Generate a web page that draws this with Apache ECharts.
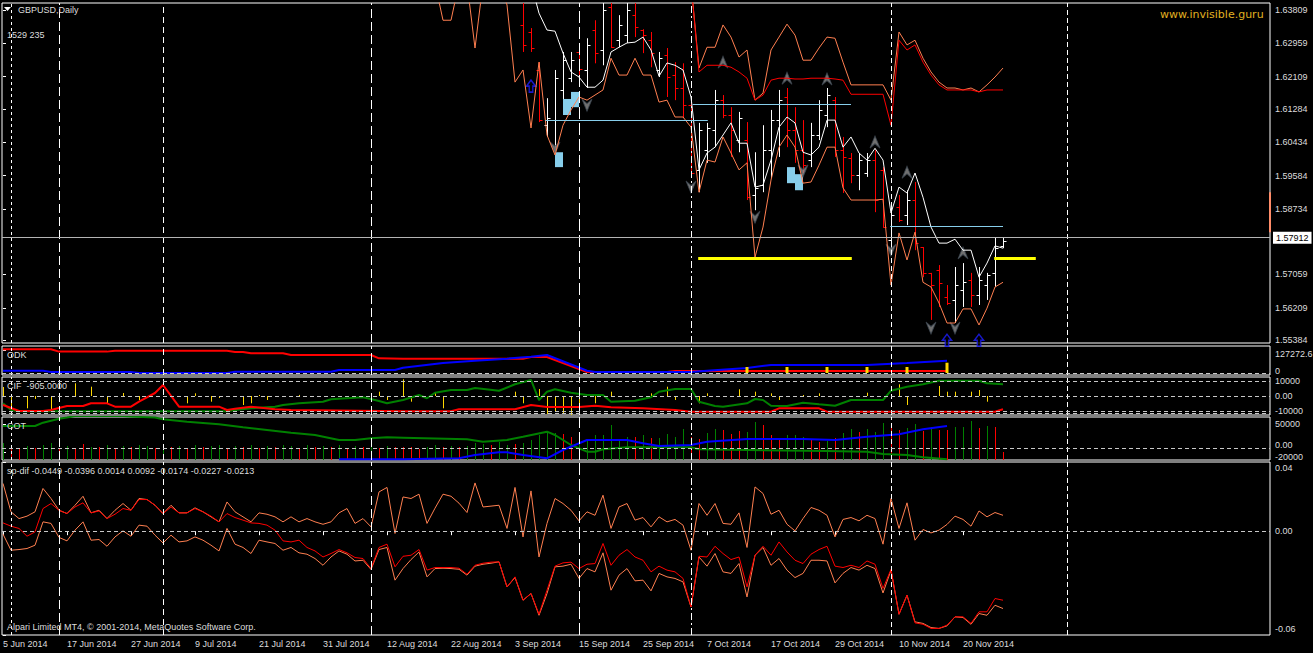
<!DOCTYPE html>
<html>
<head>
<meta charset="utf-8">
<title>GBPUSD, Daily</title>
<script src="https://cdn.jsdelivr.net/npm/echarts@6.0.0/dist/echarts.min.js"></script>
<style>
  html, body { margin: 0; padding: 0; background: #000; }
  #chart { width: 1313px; height: 653px; }
</style>
</head>
<body>
<div id="chart"></div>
<script>
// bar index 0 = 5 Jun 2014, one slot per trading day
const xTickIdx = [0, 8, 16, 24, 32, 40, 48, 56, 64, 72, 80, 88, 96, 104, 112, 120];
const xTickLabels = ['5 Jun 2014', '17 Jun 2014', '27 Jun 2014', '9 Jul 2014', '21 Jul 2014', '31 Jul 2014',
  '12 Aug 2014', '22 Aug 2014', '3 Sep 2014', '15 Sep 2014', '25 Sep 2014', '7 Oct 2014',
  '17 Oct 2014', '29 Oct 2014', '10 Nov 2014', '20 Nov 2014'];
const priceTicks = [1.63809, 1.62959, 1.62109, 1.61284, 1.60434, 1.59584, 1.58734, 1.57059, 1.56209, 1.55384];
const lastPrice = 1.57912;
const separators = [1, 7, 20, 46, 72, 86, 111, 133];

// daily bars, first one is bar 65 (4 Sep 2014)
const barStart = 65;
const barOpen = [1.6343, 1.6325, 1.6228, 1.6087, 1.6100, 1.6177, 1.6207, 1.6274, 1.6228, 1.6330,
  1.6279, 1.6389, 1.6304, 1.6317, 1.6368, 1.6330, 1.6304, 1.6228, 1.6266, 1.6215,
  1.6182, 1.6138, 1.5973, 1.6023, 1.6075, 1.6151, 1.6113, 1.6049, 1.6049, 1.5909,
  1.5934, 1.6023, 1.6100, 1.6159, 1.6075, 1.6023, 1.5998, 1.6062, 1.6113, 1.6151,
  1.6023, 1.6003, 1.5960, 1.5965, 1.5998, 1.5973, 1.5794, 1.5878, 1.5858, 1.5896,
  1.5776, 1.5710, 1.5717, 1.5648, 1.5641, 1.5666, 1.5692, 1.5653, 1.5679, 1.5710, 1.5779];
const barHigh = [1.6432, 1.6335, 1.6248, 1.6156, 1.6228, 1.6274, 1.6274, 1.6279, 1.6309, 1.6355,
  1.6419, 1.6419, 1.6368, 1.6419, 1.6419, 1.6332, 1.6325, 1.6274, 1.6284, 1.6248,
  1.6245, 1.6151, 1.6093, 1.6093, 1.6177, 1.6164, 1.6133, 1.6121, 1.6095, 1.6018,
  1.6087, 1.6126, 1.6177, 1.6182, 1.6133, 1.6100, 1.6093, 1.6151, 1.6182, 1.6159,
  1.6057, 1.6016, 1.6016, 1.6016, 1.6023, 1.5980, 1.5878, 1.5909, 1.5921, 1.5942,
  1.5776, 1.5710, 1.5730, 1.5679, 1.5725, 1.5735, 1.5710, 1.5725, 1.5710, 1.5801, 1.5799];
const barLow = [1.6274, 1.6274, 1.6095, 1.6057, 1.6031, 1.6143, 1.6197, 1.6215, 1.6182, 1.6245,
  1.6240, 1.6284, 1.6286, 1.6297, 1.6312, 1.6271, 1.6235, 1.6210, 1.6159, 1.6151,
  1.6105, 1.5960, 1.5916, 1.5991, 1.6031, 1.6105, 1.6006, 1.6018, 1.5896, 1.5870,
  1.5916, 1.5952, 1.6006, 1.6031, 1.5991, 1.5965, 1.5980, 1.6049, 1.6082, 1.6006,
  1.5914, 1.5939, 1.5921, 1.5955, 1.5865, 1.5825, 1.5768, 1.5840, 1.5832, 1.5768,
  1.5699, 1.5590, 1.5623, 1.5628, 1.5582, 1.5623, 1.5623, 1.5628, 1.5641, 1.5674, 1.5773];
const barClose = [1.6292, 1.6284, 1.6100, 1.6105, 1.6207, 1.6253, 1.6253, 1.6230, 1.6292, 1.6271,
  1.6381, 1.6286, 1.6343, 1.6381, 1.6337, 1.6317, 1.6271, 1.6258, 1.6210, 1.6182,
  1.6138, 1.5965, 1.6075, 1.6080, 1.6151, 1.6113, 1.6075, 1.6105, 1.5903, 1.5927,
  1.6023, 1.6100, 1.6151, 1.6075, 1.6023, 1.5985, 1.6062, 1.6126, 1.6164, 1.6023,
  1.6006, 1.5960, 1.5998, 1.5998, 1.5896, 1.5827, 1.5858, 1.5845, 1.5896, 1.5786,
  1.5710, 1.5679, 1.5684, 1.5633, 1.5679, 1.5686, 1.5653, 1.5692, 1.5704, 1.5773, 1.57912];

// price-pane lines (values above 1.64 run off the top of the pane)
const maStart = 66;
const maLine = [1.6450, 1.6373, 1.6330, 1.6327, 1.6271, 1.6223, 1.6210, 1.6184, 1.6184, 1.6202,
  1.6274, 1.6286, 1.6297, 1.6299, 1.6312, 1.6279, 1.6212, 1.6246, 1.6240, 1.6228,
  1.6159, 1.5973, 1.6016, 1.6031, 1.6062, 1.6093, 1.6041, 1.6041, 1.5929, 1.5934,
  1.5998, 1.6082, 1.6108, 1.6093, 1.6018, 1.6011, 1.6031, 1.6100, 1.6100, 1.6031,
  1.6057, 1.6016, 1.5998, 1.6028, 1.5998, 1.5863, 1.5929, 1.5914, 1.5965, 1.5903,
  1.5827, 1.5786, 1.5786, 1.5796, 1.5768, 1.5768, 1.5699, 1.5735, 1.5779, 1.5773];
const lowStart = 54;
const lowerBand = [1.6450, 1.6355, 1.6355, 1.6450, 1.6450, 1.6284, 1.6450, 1.6450, 1.6450, 1.6394,
  1.6197, 1.6228, 1.6080, 1.6248, 1.6062, 1.6011, 1.6087, 1.6126, 1.6159, 1.6151,
  1.6164, 1.6177, 1.6258, 1.6215, 1.6215, 1.6258, 1.6215, 1.6215, 1.6146, 1.6151,
  1.6108, 1.6108, 1.6082, 1.5916, 1.5998, 1.5993, 1.6057, 1.6016, 1.5973, 1.5991,
  1.5750, 1.5827, 1.5947, 1.6031, 1.6062, 1.6031, 1.5939, 1.5942, 1.5985, 1.6031,
  1.6031, 1.5927, 1.5896, 1.5896, 1.5896, 1.5896, 1.5898, 1.5679, 1.5812, 1.5743,
  1.5814, 1.5686, 1.5674, 1.5633, 1.5582, 1.5582, 1.5618, 1.5618, 1.5577, 1.5620,
  1.5674, 1.5686];
const upStart = 86;
const upperBand = [1.6450, 1.6233, 1.6286, 1.6286, 1.6343, 1.6312, 1.6261, 1.6279, 1.6151, 1.6169,
  1.6279, 1.6312, 1.6345, 1.6317, 1.6253, 1.6253, 1.6284, 1.6312, 1.6309, 1.6248,
  1.6190, 1.6190, 1.6190, 1.6190, 1.6190, 1.6151, 1.6325, 1.6292, 1.6304, 1.6258,
  1.6223, 1.6197, 1.6182, 1.6182, 1.6177, 1.6182, 1.6172, 1.6190, 1.6210, 1.6233];
const redBand = [1.6450, 1.6223, 1.6240, 1.6240, 1.6240, 1.6235, 1.6223, 1.6207, 1.6151, 1.6164,
  1.6202, 1.6207, 1.6207, 1.6205, 1.6205, 1.6207, 1.6207, 1.6207, 1.6205, 1.6202,
  1.6166, 1.6166, 1.6166, 1.6166, 1.6166, 1.6087, 1.6304, 1.6279, 1.6292, 1.6248,
  1.6215, 1.6190, 1.6177, 1.6177, 1.6177, 1.6177, 1.6172, 1.6177, 1.6177, 1.6177];

// [from bar, to bar, price]
const skyLevels = [[67.8, 88.1, 1.6100], [86.2, 106, 1.6140], [110.9, 125, 1.5829]];
const yellowLevels = [[86.9, 106.1, 1.5748], [123.9, 129.1, 1.5748]];
// [from bar, to bar, top price, bottom price]
const skyBoxes = [[69, 70, 1.6018, 1.5980], [70, 71, 1.6154, 1.6113], [71, 72, 1.6172, 1.6133],
  [98, 99, 1.5980, 1.5939], [99, 100, 1.5962, 1.5921]];
const edgeMarker = [1.5916, 1.5814];
const arrowsDown = [[69, 1.6029], [73, 1.6138], [86, 1.5929], [94, 1.5852], [100, 1.5970],
  [111, 1.5768], [116, 1.5569], [119, 1.5569]];
const arrowsUp = [[90, 1.6248], [98, 1.6207], [103, 1.6205], [109, 1.6044], [113, 1.5967], [120, 1.5761]];
const blueArrows = [[66, 1.6187], [118, 1.5538], [122, 1.5538]];

// ODK pane [bar, value]
const odkRed = [[0, 131000], [6, 131000], [7, 118000], [13, 118000], [14, 123000], [28, 123000],
  [29, 116000], [30, 116000], [31, 109000], [35, 109000], [36, 99600], [46, 99600], [47, 81000],
  [50, 79000], [65, 79000], [66, 88500], [68, 88500], [73, 5500], [83, 5500], [84, 11000], [118, 11000]];
const odkBlue = [[0, 12700], [5, 12700], [6, 5500], [16, 5500], [17, 0], [28, 0], [29, 7200], [41, 7200],
  [42, 16600], [49, 16600], [50, 29300], [55, 55300], [59, 68000], [63, 79000], [66, 90200], [68, 99600],
  [73, 12700], [74, 5500], [86, 5500], [88, 12700], [93, 27700], [96, 44300], [108, 44300], [113, 55300],
  [118, 68000]];
const odkBars = [[93, 33000], [98, 33000], [103, 33000], [108, 33000], [113, 33000], [118, 56800]];

// CIF pane
const cifGreen = [[0, -4870], [1, -9330], [2, -10200], [28, -10200], [29, -9330], [31, -8200], [34, -7130],
  [35, -6000], [37, -4870], [40, -3800], [41, -2200], [43, -1530], [45, -870], [47, -3330], [48, -4870],
  [50, -2670], [52, 670], [53, -1530], [54, 2200], [56, 4000], [58, 4000], [59, 5330], [62, 3530],
  [64, 7800], [66, 10670], [67, -2670], [68, 2870], [69, 4470], [71, 2200], [73, 670], [75, 670],
  [76, -3800], [79, -3130], [81, -870], [82, 2870], [84, 4670], [86, 4670], [87, -3800], [89, -6670],
  [90, -7130], [93, -4870], [94, -2000], [95, -2670], [96, -6470], [98, -6670], [100, -4470],
  [102, -5530], [104, -6470], [106, -2670], [110, -2670], [111, 3530], [113, 6200], [115, 7800],
  [117, 10200], [122, 10200], [123, 8470], [125, 7800]];
const cifRed = [[0, -6000], [2, -10000], [5, -10000], [6, -9330], [7, -8000], [8, -6670], [10, -6670],
  [11, -4870], [13, -4870], [14, -7130], [16, -7130], [17, -3800], [19, 2000], [20, 7330], [22, -7130],
  [27, -7130], [28, -9330], [29, -8470], [31, -7130], [34, -8870], [36, -9330], [50, -10200],
  [56, -10200], [57, -8870], [64, -8870], [66, -6000], [68, -7330], [72, -7330], [74, -6470],
  [76, -7530], [80, -8200], [84, -9330], [86, -10470], [96, -10470], [97, -8200], [102, -8200],
  [103, -10470], [124, -10470], [125, -8870]];
const cifHist = [[0, 6000], [1, -10470], [2, -700], [3, -8200], [4, -2000], [6, -9330], [9, 8470],
  [11, 6200], [13, -4870], [15, 2000], [17, -2670], [23, -4870], [24, 1800], [26, -3800], [27, -1330],
  [30, -6000], [31, -4870], [32, 670], [33, -2670], [37, 700], [47, 2870], [48, -2670], [50, 11130],
  [51, -3800], [54, 2000], [55, -8200], [64, 2870], [65, -4870], [67, 4670], [68, -12000], [69, -10470],
  [70, -12000], [71, -12670], [72, -10470], [74, -4870], [76, 2870], [81, 1800], [83, 6200], [84, -2670],
  [87, -4870], [88, 1800], [92, 4470], [94, 2870], [96, 1800], [97, -2670], [100, 670], [102, 1800],
  [108, 2200], [111, 1330], [112, 7800], [113, -6000], [117, 6670], [118, 2870], [119, 2870],
  [121, 2870], [122, 4000], [123, -3800]];
const cifLevels = [10000, 0, -10000, -11600];

// COT pane
const cotGreen = [[0, 45000], [4, 45000], [5, 53250], [7, 63000], [8, 66000], [9, 70000], [15, 70000],
  [16, 68500], [19, 66000], [20, 61750], [23, 55750], [27, 49250], [30, 41750], [33, 35000], [36, 28250],
  [39, 22500], [42, 10000], [44, 10000], [46, 14250], [48, 16750], [50, 15750], [58, 11750], [60, 5750],
  [63, 10000], [65, 18250], [68, 30750], [69, 22500], [71, -2500], [73, -19250], [74, -19250],
  [75, -13250], [78, -8250], [86, -8250], [87, -13250], [103, -17500], [108, -19250], [110, -25000],
  [113, -27500], [115, -33250], [118, -38250]];
const cotBlue = [[42, -38250], [50, -38250], [57, -35750], [59, -27500], [62, -20750], [63, -20750],
  [65, -27500], [68, -35750], [70, -15000], [73, 10000], [78, 10000], [80, 1750], [82, -5000],
  [86, -2500], [88, 5750], [93, 12500], [100, 12500], [104, 10000], [108, 18250], [112, 24250],
  [115, 36750], [118, 45000]];
const cotZero = -10000;
// weekly histogram, thousands of contracts, one per bar, side g/r
const cotHist = [17, 12, 11, 14, 12, 15, 17, 12, 14, 12, 16, 13, 13, 15, 12, 14, 13, 15, 14, 12,
  16, 13, 14, 12, 15, 13, 14, 15, 12, 14, 13, 15, 12, 14, 13, 15, 14, 12, 15, 13,
  14, 13, 15, 12, 14, 13, 15, 12, 14, 13, 13, 13, 11, 13, 15, 13, 14, 13, 14, 17,
  16, 15, 18, 15, 16, 17, 20, 25, 28, 27, 26, 23, 27, 20, 25, 25, 35, 20, 23, 23,
  25, 22, 22, 26, 23, 31, 23, 21, 27, 31, 30, 26, 29, 28, 38, 35, 25, 22, 25, 25,
  23, 21, 18, 19, 22, 27, 31, 28, 31, 28, 37, 37, 30, 32, 36, 29, 33, 30, 30, 33,
  33, 39, 32, 34, 33, 8];
const cotHistSide = 'grrgrggrgr' + 'rgrgrgrggr' + 'grgrgrggrg' + 'rgrgrggrgr' + 'grgrgrgrgr' +
  'rrrggrgrgg' + 'grggrggggg' + 'rrgggggggr' + 'grggggrrgg' + 'rrrggrrrgg' + 'grrgrggrgg' +
  'grrggrgrrg' + 'ggrgrr';

// sp-dif pane, one value per bar from 5 Jun
const spUpper = [0.0276, 0.0112, 0.0073, 0.0087, 0.0112, 0.0247, 0.0189, 0.0121, 0.0102, 0.0150,
  0.0202, 0.0106, 0.0121, 0.0073, 0.0121, 0.0160, 0.0121, 0.0189, 0.0183, 0.0150,
  0.0102, 0.0150, 0.0106, 0.0106, 0.0135, 0.0112, 0.0083, 0.0054, 0.0169, 0.0112,
  0.0083, 0.0054, 0.0106, 0.0098, 0.0083, 0.0054, 0.0083, 0.0054, 0.0073, 0.0054,
  0.0040, 0.0054, 0.0106, 0.0131, 0.0045, 0.0073, 0.0025, 0.0227, 0.0253, -0.0013,
  0.0198, 0.0189, 0.0214, 0.0045, 0.0133, 0.0214, 0.0202, 0.0162, 0.0108, 0.0279,
  0.0140, 0.0145, 0.0150, 0.0016, 0.0253, -0.0033, 0.0233, -0.0149, 0.0045, 0.0189,
  0.0160, 0.0121, 0.0060, 0.0112, 0.0092, 0.0208, 0.0016, 0.0140, 0.0160, 0.0064,
  0.0079, 0.0025, 0.0083, 0.0054, 0.0068, 0.0035, -0.0110, 0.0160, 0.0092, 0.0160,
  0.0045, 0.0040, 0.0106, -0.0094, 0.0256, 0.0218, 0.0098, 0.0121, 0.0040, 0.0002,
  0.0073, 0.0137, 0.0121, 0.0092, -0.0033, 0.0068, 0.0079, 0.0060, 0.0092, 0.0073,
  -0.0075, 0.0189, 0.0016, 0.0164, -0.0052, 0.0010, -0.0010, 0.0006, 0.0039, 0.0087,
  0.0068, 0.0029, 0.0117, 0.0083, 0.0108, 0.0092];
const spLower = [-0.0017, -0.0110, -0.0106, -0.0100, -0.0081, 0.0054, 0.0045, -0.0036, -0.0056, 0.0006,
  0.0054, -0.0052, -0.0048, -0.0087, -0.0033, 0.0002, -0.0029, 0.0035, 0.0029, -0.0023,
  -0.0068, -0.0023, -0.0062, -0.0056, -0.0033, -0.0052, -0.0081, -0.0114, 0.0016, -0.0075,
  -0.0094, -0.0129, -0.0052, -0.0062, -0.0071, -0.0110, -0.0094, -0.0125, -0.0133, -0.0158,
  -0.0197, -0.0149, -0.0114, -0.0133, -0.0172, -0.0168, -0.0221, -0.0106, -0.0094, -0.0283,
  -0.0216, -0.0164, -0.0120, -0.0264, -0.0216, -0.0214, -0.0216, -0.0220, -0.0254, -0.0202,
  -0.0191, -0.0185, -0.0177, -0.0322, -0.0268, -0.0399, -0.0360, -0.0486, -0.0360, -0.0206,
  -0.0202, -0.0191, -0.0273, -0.0216, -0.0235, -0.0125, -0.0341, -0.0254, -0.0216, -0.0287,
  -0.0283, -0.0345, -0.0244, -0.0264, -0.0273, -0.0293, -0.0438, -0.0149, -0.0202, -0.0129,
  -0.0235, -0.0244, -0.0187, -0.0380, -0.0139, -0.0094, -0.0197, -0.0158, -0.0225, -0.0268,
  -0.0244, -0.0168, -0.0168, -0.0172, -0.0299, -0.0244, -0.0210, -0.0225, -0.0197, -0.0216,
  -0.0357, -0.0225, -0.0480, -0.0370, -0.0524, -0.0533, -0.0557, -0.0562, -0.0547, -0.0495,
  -0.0499, -0.0538, -0.0476, -0.0486, -0.0428, -0.0447];
const spRed = [0.0048, 0.0029, 0.0016, -0.0029, -0.0004, 0.0131, 0.0160, 0.0121, 0.0102, 0.0140,
  0.0164, 0.0106, 0.0117, 0.0073, 0.0098, 0.0131, 0.0121, 0.0183, 0.0183, 0.0150,
  0.0102, 0.0140, 0.0106, 0.0106, 0.0131, 0.0112, 0.0087, 0.0054, 0.0102, 0.0079,
  0.0064, 0.0048, 0.0045, 0.0035, 0.0006, -0.0056, -0.0062, -0.0052, -0.0094, -0.0114,
  -0.0149, -0.0129, -0.0106, -0.0125, -0.0152, -0.0158, -0.0216, -0.0094, -0.0075, -0.0206,
  -0.0145, -0.0139, -0.0106, -0.0225, -0.0210, -0.0210, -0.0210, -0.0214, -0.0249, -0.0197,
  -0.0185, -0.0179, -0.0177, -0.0322, -0.0264, -0.0399, -0.0360, -0.0480, -0.0341, -0.0202,
  -0.0183, -0.0179, -0.0216, -0.0191, -0.0187, -0.0071, -0.0197, -0.0139, -0.0106, -0.0149,
  -0.0168, -0.0235, -0.0202, -0.0225, -0.0235, -0.0273, -0.0438, -0.0145, -0.0149, -0.0087,
  -0.0129, -0.0164, -0.0149, -0.0322, -0.0139, -0.0087, -0.0139, -0.0062, -0.0120, -0.0168,
  -0.0187, -0.0133, -0.0106, -0.0087, -0.0202, -0.0210, -0.0197, -0.0210, -0.0172, -0.0191,
  -0.0331, -0.0221, -0.0480, -0.0370, -0.0530, -0.0538, -0.0562, -0.0562, -0.0543, -0.0495,
  -0.0495, -0.0533, -0.0466, -0.0466, -0.0389, -0.0399];

const XMIN = -0.125, XMAX = 158.375;
const FONT = "'Liberation Sans', Arial, sans-serif";
const TXT = '#DCDCDC';
const CORAL = '#FF7F50';
const DASH = '#C8C8C8';
const sepDash = [[3, 3], [9, 4], [6, 4], [9, 4], [12, 4], [7, 3, 2, 3], [5, 3], [5, 3]];

const fromStart = (start, arr) => arr.map((v, k) => [start + k, v]);
const perBar = (arr) => arr.map((v, k) => [k, v]);

const chart = echarts.init(document.getElementById('chart'), null, { renderer: 'svg' });

const grids = [
  { top: 3, height: 340 }, { top: 346, height: 29 }, { top: 377, height: 38 },
  { top: 417, height: 43 }, { top: 462, height: 173 }
].map(g => Object.assign({
  left: 2, width: 1268, show: true, borderColor: '#FFFFFF', borderWidth: 1,
  backgroundColor: 'transparent', containLabel: false, outerBoundsMode: 'none'
}, g));

const xAxes = grids.map((g, k) => ({
  type: 'value', gridIndex: k, min: XMIN, max: XMAX,
  splitLine: { show: false }, axisLine: { show: false },
  axisTick: k === 4 ? { show: true, customValues: xTickIdx, length: 4, lineStyle: { color: '#FFFFFF' } } : { show: false },
  axisLabel: k === 4 ? {
    show: true, customValues: xTickIdx, align: 'left', margin: 4,
    color: TXT, fontFamily: FONT, fontSize: 9,
    formatter: v => xTickLabels[xTickIdx.indexOf(v)] || ''
  } : { show: false }
}));

const labelBase = { color: TXT, fontFamily: FONT, fontSize: 9, margin: 5 };
const tickBase = { show: true, length: 3, lineStyle: { color: '#FFFFFF' } };
const yCommon = { type: 'value', position: 'right', splitLine: { show: false }, axisLine: { show: false } };
const richEdge = (top, bottom) => ({
  t: { padding: [top, 0, 0, 0], color: TXT, fontFamily: FONT, fontSize: 9 },
  b: { padding: [0, 0, bottom, 0], color: TXT, fontFamily: FONT, fontSize: 9 }
});

const yAxes = [
  Object.assign({}, yCommon, {
    gridIndex: 0, min: 1.5531, max: 1.6399,
    axisTick: Object.assign({ customValues: priceTicks }, tickBase),
    axisLabel: Object.assign({ customValues: priceTicks, formatter: v => v.toFixed(5) }, labelBase)
  }),
  Object.assign({}, yCommon, {
    gridIndex: 1, min: -11000, max: 149000,
    axisTick: Object.assign({ customValues: [127272.6, 0] }, tickBase),
    axisLabel: Object.assign({
      customValues: [127272.6, 0],
      formatter: v => v === 0 ? '{b|0}' : '{t|' + v + '}',
      rich: richEdge(8, 4)
    }, labelBase)
  }),
  Object.assign({}, yCommon, {
    gridIndex: 2, min: -12667, max: 12667,
    axisTick: Object.assign({ customValues: [10000, 0, -10000] }, tickBase),
    axisLabel: Object.assign({ customValues: [10000, 0, -10000], formatter: v => v === 0 ? '0.00' : String(v) }, labelBase)
  }),
  Object.assign({}, yCommon, {
    gridIndex: 3, min: -40000, max: 67500,
    axisTick: Object.assign({ customValues: [50000, -20000] }, tickBase),
    axisLabel: Object.assign({
      customValues: [50000, -20000],
      formatter: v => v < 0 ? '{t|' + v + '}' : String(v),
      rich: richEdge(9, 0)
    }, labelBase)
  }),
  Object.assign({}, yCommon, {
    gridIndex: 3, min: 0, max: 43, axisTick: { show: false }, axisLabel: { show: false }
  }),
  Object.assign({}, yCommon, {
    gridIndex: 4, min: -0.06, max: 0.04,
    axisTick: Object.assign({ customValues: [0.04, 0, -0.06] }, tickBase),
    axisLabel: Object.assign({
      customValues: [0.04, 0, -0.06],
      formatter: v => v > 0.02 ? '{t|' + v.toFixed(2) + '}' : (v < -0.02 ? '{b|' + v.toFixed(2) + '}' : v.toFixed(2)),
      rich: richEdge(12, 12)
    }, labelBase)
  })
];

const sepLines = separators.map((s, k) => ({ xAxis: s, lineStyle: { color: '#FFFFFF', width: 1, type: sepDash[k] } }));
const dashedAt = vals => vals.map(v => ({ yAxis: v, lineStyle: { color: DASH, width: 1, type: [4, 3] } }));

function lineSeries(name, data, xi, yi, color, width, extra) {
  return Object.assign({
    name, type: 'line', data, xAxisIndex: xi, yAxisIndex: yi,
    showSymbol: false, symbol: 'none', clip: true, silent: true,
    lineStyle: { color, width }, emphasis: { disabled: true }
  }, extra || {});
}
function marks(data) {
  return { markLine: { silent: true, symbol: ['none', 'none'], label: { show: false }, animation: false, data } };
}

const barData = barOpen.map((o, k) => [barStart + k, o, barHigh[k], barLow[k], barClose[k]]);

const series = [
  {
    type: 'custom', name: 'GBPUSD', xAxisIndex: 0, yAxisIndex: 0, clip: true, silent: true,
    data: barData, encode: { x: 0, y: [1, 2, 3, 4] },
    renderItem: (params, api) => {
      const x = api.value(0);
      const o = api.value(1), h = api.value(2), l = api.value(3), c = api.value(4);
      const pH = api.coord([x, h]), pL = api.coord([x, l]), pO = api.coord([x, o]), pC = api.coord([x, c]);
      const col = c >= o ? '#FFFFFF' : '#FF0000';
      const cx = Math.round(pH[0]) + 0.5;
      const yo = Math.round(pO[1]) + 0.5, yc = Math.round(pC[1]) + 0.5;
      return {
        type: 'group', children: [
          { type: 'line', shape: { x1: cx, y1: pH[1], x2: cx, y2: pL[1] }, style: { stroke: col, lineWidth: 1 } },
          { type: 'line', shape: { x1: cx - 3, y1: yo, x2: cx, y2: yo }, style: { stroke: col, lineWidth: 1 } },
          { type: 'line', shape: { x1: cx, y1: yc, x2: cx + 3, y2: yc }, style: { stroke: col, lineWidth: 1 } }
        ]
      };
    }
  },
  lineSeries('lower band', fromStart(lowStart, lowerBand), 0, 0, CORAL, 1),
  lineSeries('upper band', fromStart(upStart, upperBand), 0, 0, CORAL, 1),
  lineSeries('red band', fromStart(upStart, redBand), 0, 0, '#FF0000', 1),
  lineSeries('average', fromStart(maStart, maLine), 0, 0, '#FFFFFF', 1, marks(
    sepLines
      .concat(skyLevels.map(([a, b, p]) => [{ coord: [a, p], lineStyle: { color: '#87CEEB', width: 1, type: 'solid' } }, { coord: [b, p] }]))
      .concat(yellowLevels.map(([a, b, p]) => [{ coord: [a, p], lineStyle: { color: '#FFFF00', width: 3, type: 'solid' } }, { coord: [b, p] }]))
      .concat([{
        yAxis: lastPrice, lineStyle: { color: '#B4B4B4', width: 1, type: 'solid' },
        label: { show: true, position: 'end', distance: 3, formatter: lastPrice.toFixed(5),
          backgroundColor: '#FFFFFF', color: '#000000', padding: [2, 3, 1, 3], fontFamily: FONT, fontSize: 9 }
      }])
      .concat([[{ coord: [XMAX, edgeMarker[0]], lineStyle: { color: '#FF8C69', width: 2, type: 'solid' } }, { coord: [XMAX, edgeMarker[1]] }]])
  )),
  {
    type: 'custom', name: 'zones', xAxisIndex: 0, yAxisIndex: 0, clip: true, silent: true,
    data: skyBoxes, encode: { x: [0, 1], y: [2, 3] },
    renderItem: (params, api) => {
      const a = api.coord([api.value(0), api.value(2)]);
      const b = api.coord([api.value(1), api.value(3)]);
      return { type: 'rect', shape: { x: a[0], y: a[1], width: b[0] - a[0], height: b[1] - a[1] }, style: { fill: '#87CEEB' } };
    }
  },
  {
    type: 'scatter', name: 'sell', xAxisIndex: 0, yAxisIndex: 0, data: arrowsDown, silent: true,
    symbol: 'path://M0,0 L5,4 L10,0 L5,11 Z', symbolSize: [10, 12],
    itemStyle: { color: '#8C8C8C', borderColor: '#3C4650', borderWidth: 1 }
  },
  {
    type: 'scatter', name: 'buy', xAxisIndex: 0, yAxisIndex: 0, data: arrowsUp, silent: true,
    symbol: 'path://M5,0 L10,11 L5,7 L0,11 Z', symbolSize: [10, 12],
    itemStyle: { color: '#8C8C8C', borderColor: '#3C4650', borderWidth: 1 }
  },
  {
    type: 'scatter', name: 'signal', xAxisIndex: 0, yAxisIndex: 0, data: blueArrows, silent: true,
    symbol: 'path://M5,0 L10,6 L7,6 L7,12 L3,12 L3,6 L0,6 Z', symbolSize: [9, 12],
    itemStyle: { color: '#000000', borderColor: '#1E1EFF', borderWidth: 1.5 }
  },

  // ODK
  lineSeries('ODK red', odkRed, 1, 1, '#FF0000', 2, marks(sepLines.concat(dashedAt([0])))),
  lineSeries('ODK blue', odkBlue, 1, 1, '#0000FF', 2),
  {
    type: 'custom', name: 'ODK bars', xAxisIndex: 1, yAxisIndex: 1, clip: true, silent: true, z: 5,
    data: odkBars, encode: { x: 0, y: 1 },
    renderItem: (params, api) => {
      const a = api.coord([api.value(0), 0]), b = api.coord([api.value(0), api.value(1)]);
      return { type: 'rect', shape: { x: a[0] - 1.5, y: b[1], width: 3, height: a[1] - b[1] }, style: { fill: '#FFD700' } };
    }
  },

  // CIF
  {
    type: 'custom', name: 'CIF hist', xAxisIndex: 2, yAxisIndex: 2, clip: true, silent: true,
    data: cifHist, encode: { x: 0, y: 1 },
    renderItem: (params, api) => {
      const a = api.coord([api.value(0), 0]), b = api.coord([api.value(0), api.value(1)]);
      const x = Math.round(a[0]) + 0.5;
      return { type: 'line', shape: { x1: x, y1: a[1], x2: x, y2: b[1] }, style: { stroke: '#FFD700', lineWidth: 1 } };
    }
  },
  lineSeries('CIF green', cifGreen, 2, 2, '#008000', 2, marks(sepLines.concat(dashedAt(cifLevels)))),
  lineSeries('CIF red', cifRed, 2, 2, '#FF0000', 2),

  // COT
  {
    type: 'custom', name: 'COT hist', xAxisIndex: 3, yAxisIndex: 4, clip: true, silent: true,
    data: perBar(cotHist), encode: { x: 0, y: 1 },
    renderItem: (params, api) => {
      const a = api.coord([api.value(0), 0]), b = api.coord([api.value(0), api.value(1)]);
      const x = Math.round(a[0]) + 0.5;
      const col = cotHistSide[params.dataIndex] === 'g' ? '#008000' : '#FF0000';
      return { type: 'line', shape: { x1: x, y1: a[1], x2: x, y2: b[1] }, style: { stroke: col, lineWidth: 1 } };
    }
  },
  lineSeries('COT green', cotGreen, 3, 3, '#008000', 2, marks(sepLines.concat([{
    yAxis: cotZero, lineStyle: { color: DASH, width: 1, type: [4, 3] },
    label: { show: true, position: 'end', distance: 5, formatter: '{u|0.00}', color: TXT, fontFamily: FONT, fontSize: 9,
      rich: { u: { padding: [0, 0, 7, 0], color: TXT, fontFamily: FONT, fontSize: 9 } } }
  }]))),
  lineSeries('COT blue', cotBlue, 3, 3, '#0000FF', 2),

  // sp-dif
  lineSeries('sp-dif upper', perBar(spUpper), 4, 5, CORAL, 1, marks(sepLines.concat(dashedAt([0])))),
  lineSeries('sp-dif lower', perBar(spLower), 4, 5, CORAL, 1),
  lineSeries('sp-dif red', perBar(spRed), 4, 5, '#FF0000', 1)
];

const tStyle = () => ({ color: TXT, fontFamily: FONT, fontSize: 9, fontWeight: 'normal' });
const titles = [
  { text: 'GBPUSD,Daily', left: 18, top: 5 },
  { text: '1529 235', left: 7, top: 30 },
  { text: 'www.invisible.guru', left: 1160, top: 9, textStyle: { color: '#E0B020', fontFamily: "'DejaVu Sans', sans-serif", fontSize: 11, fontWeight: 'normal' } },
  { text: 'ODK', left: 7, top: 350 },
  { text: 'CIF  -905.0000', left: 7, top: 381 },
  { text: 'COT', left: 7, top: 421 },
  { text: 'sp-dif -0.0449 -0.0396 0.0014 0.0092 -0.0174 -0.0227 -0.0213', left: 7, top: 466 },
  { text: 'Alpari Limited MT4, \u00A9 2001-2014, MetaQuotes Software Corp.', left: 7, top: 622 }
].map(t => Object.assign({ padding: 0, textStyle: tStyle() }, t));

chart.setOption({
  backgroundColor: '#000000',
  animation: false,
  title: titles,
  grid: grids,
  xAxis: xAxes,
  yAxis: yAxes,
  graphic: [{ type: 'polygon', shape: { points: [[4, 7], [11, 7], [7.5, 11]] }, style: { fill: '#FFFFFF' } }],
  series
});
</script>
</body>
</html>
